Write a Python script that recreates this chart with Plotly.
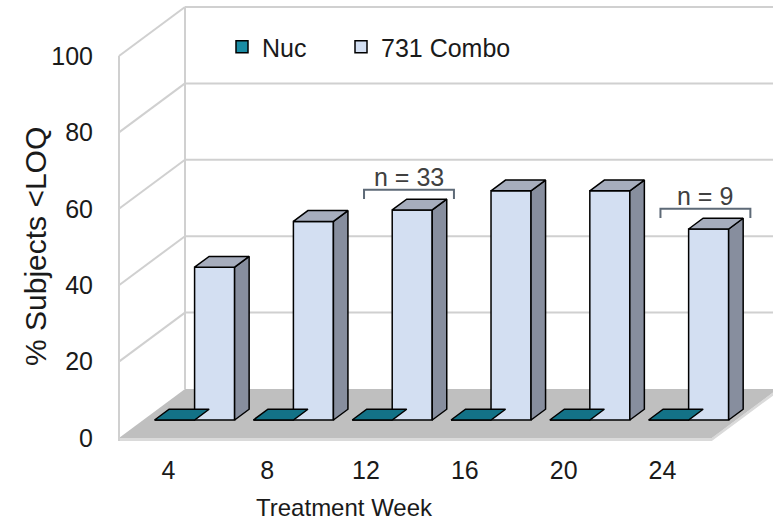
import plotly.graph_objects as go

# ---------------- data ----------------
weeks = ["4", "8", "12", "16", "20", "24"]
nuc_values = [0, 0, 0, 0, 0, 0]
combo_values = [40, 52, 55, 60, 60, 50]
y_ticks = [0, 20, 40, 60, 80, 100]
bracket_labels = {2: "n = 33", 5: "n = 9"}

# ---------------- 3-D look parameters (in axis units) ----------------
DX, DY = 0.668, 12.83          # depth of the whole chart box
FA = 0.367                     # depth fraction of bar front faces
FB = 0.22                      # bar depth as fraction of box depth
BW = 0.405                     # bar width (category units)
SHIFT = 0.02                   # small sideways shift of the bar groups
X0, X1 = -0.591, 6.119
Y0, Y1 = -2.094, 114.14

font = "Liberation Sans, Arial, sans-serif"
C_NUC, C_NUC_TOP = "#1A8CA4", "#137287"
C_CMB, C_CMB_TOP, C_CMB_SIDE = "#D3DFF2", "#A6ADBD", "#878E9E"
WALL = "#D0D0D0"

fig = go.Figure()
shapes = []

# floor (thickness + top)
fl, fr = -0.5, len(weeks) - 0.5
t = 0.8
shapes.append(dict(type="path", xref="x", yref="y", layer="below", line=dict(width=0),
                   fillcolor="#DADADA",
                   path=f"M{fl},{-t} L{fr},{-t} L{fr+DX},{DY-t} L{fr+DX},{DY} L{fr},0 L{fl},0 Z"))
shapes.append(dict(type="path", xref="x", yref="y", layer="below", line=dict(width=0),
                   fillcolor="#BFBFBF",
                   path=f"M{fl},0 L{fr},0 L{fr+DX},{DY} L{fl+DX},{DY} Z"))
# walls: left front edge, back left edge, gridlines
shapes.append(dict(type="line", xref="x", yref="y", layer="below", line=dict(color=WALL, width=2),
                   x0=fl, y0=-t, x1=fl, y1=y_ticks[-1]))
shapes.append(dict(type="line", xref="x", yref="y", layer="below", line=dict(color=WALL, width=2),
                   x0=fl + DX, y0=DY, x1=fl + DX, y1=y_ticks[-1] + DY))
for v in y_ticks[1:]:
    shapes.append(dict(type="line", xref="x", yref="y", layer="below", line=dict(color=WALL, width=2),
                       x0=fl, y0=v, x1=fl + DX, y1=v + DY))
    shapes.append(dict(type="line", xref="x", yref="y", layer="below", line=dict(color=WALL, width=2),
                       x0=fl + DX, y0=v + DY, x1=X1 + 1, y1=v + DY))

# bar front faces (real bars)
ox, oy = FA * DX + SHIFT, FA * DY
bx, by = FB * DX, FB * DY
xs = list(range(len(weeks)))
fig.add_trace(go.Bar(name="Nuc", x=[i + ox - BW / 2 for i in xs], y=nuc_values, base=oy,
                     width=BW, marker=dict(color=C_NUC, line=dict(color="black", width=1.5)),
                     hoverinfo="skip", legend="legend"))
fig.add_trace(go.Bar(name="731 Combo", x=[i + ox + BW / 2 for i in xs], y=combo_values, base=oy,
                     width=BW, marker=dict(color=C_CMB, line=dict(color="black", width=1.5)),
                     hoverinfo="skip", legend="legend2"))


def poly_trace(pts_list, color):
    px, py = [], []
    for pts in pts_list:
        for (a, b) in pts + [pts[0]]:
            px.append(a)
            py.append(b)
        px.append(None)
        py.append(None)
    return go.Scatter(x=px, y=py, mode="lines", fill="toself", fillcolor=color,
                      line=dict(color="black", width=1.5), showlegend=False, hoverinfo="skip")


nuc_tops, cmb_tops, cmb_sides = [], [], []
for i in xs:
    l, r, top = i + ox - BW, i + ox, oy + nuc_values[i]
    nuc_tops.append([(l, top), (r, top), (r + bx, top + by), (l + bx, top + by)])
    l, r, top = i + ox, i + ox + BW, oy + combo_values[i]
    cmb_tops.append([(l, top), (r, top), (r + bx, top + by), (l + bx, top + by)])
    cmb_sides.append([(r, oy), (r + bx, oy + by), (r + bx, top + by), (r, top)])

fig.add_trace(poly_trace(nuc_tops, C_NUC_TOP))
fig.add_trace(poly_trace(cmb_sides, C_CMB_SIDE))
fig.add_trace(poly_trace(cmb_tops, C_CMB_TOP))

# n brackets
annotations = []
for i, label in bracket_labels.items():
    yb = combo_values[i] + 10
    bl, br = i - 0.02, i + 0.89
    shapes.append(dict(type="path", xref="x", yref="y", line=dict(color="#5E6A77", width=2),
                       path=f"M{bl},{yb-2.4} L{bl},{yb} L{br},{yb} L{br},{yb-2.4}"))
    annotations.append(dict(x=(bl + br) / 2, y=yb, xref="x", yref="y", text=label, showarrow=False,
                            yanchor="bottom", yshift=-3, font=dict(family=font, size=25, color="#404040")))

W, H = 773, 524
L, R, T, B = 110, 0, 2, 78
pw, ph = W - L - R, H - T - B


def px2x(p):
    return (p - L) / pw


def px2y(p):
    return (H - B - p) / ph


# axis titles as annotations placed like the reference
annotations.append(dict(x=px2x(35), y=px2y(247), xref="paper", yref="paper", text="% Subjects <LOQ",
                        xanchor="center", yanchor="middle",
                        showarrow=False, textangle=-90, font=dict(family=font, size=30, color="#1a1a1a")))
annotations.append(dict(x=px2x(344), y=px2y(507), xref="paper", yref="paper", text="Treatment Week",
                        xanchor="center", yanchor="middle",
                        showarrow=False, font=dict(family=font, size=24, color="#1a1a1a")))

legend_common = dict(orientation="h", xanchor="left", yanchor="middle",
                     font=dict(family=font, size=25, color="#1a1a1a"),
                     bgcolor="rgba(0,0,0,0)", borderwidth=0)

fig.update_layout(
    width=W, height=H, margin=dict(l=L, r=R, t=T, b=B, autoexpand=False),
    paper_bgcolor="white", plot_bgcolor="white",
    barmode="overlay", shapes=shapes, annotations=annotations,
    font=dict(family=font, color="#1a1a1a"),
    legend=dict(x=px2x(222), y=px2y(47), **legend_common),
    legend2=dict(x=px2x(341), y=px2y(47), **legend_common),
    xaxis=dict(range=[X0, X1], tickvals=xs, ticktext=weeks, showgrid=False, zeroline=False,
               showline=False, ticks="", ticklabelstandoff=7, tickfont=dict(size=25),
               automargin=False),
    yaxis=dict(range=[Y0, Y1], tickvals=y_ticks, showgrid=False, zeroline=False, showline=False,
               ticks="", ticklabelstandoff=16, tickfont=dict(size=25), automargin=False),
)

fig.write_html("out.html", config={"displayModeBar": False},
               post_script="document.body.style.margin='0';")
